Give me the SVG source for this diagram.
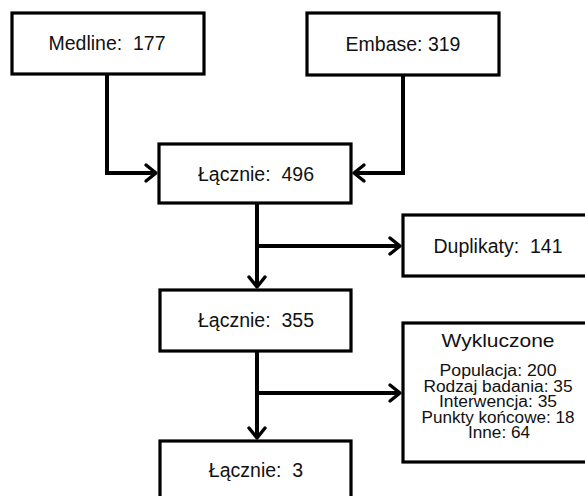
<svg xmlns="http://www.w3.org/2000/svg" width="585" height="496" viewBox="0 0 585 496">
<style>
.box{fill:#fff;stroke:#000;stroke-width:3.2}
.t{font-family:"Liberation Sans",Arial,sans-serif;font-size:19.5px;fill:#111;text-anchor:middle;white-space:pre}
.w{font-family:"Liberation Sans",Arial,sans-serif;font-size:19px;fill:#111;text-anchor:middle}
.s{font-family:"Liberation Sans",Arial,sans-serif;font-size:16px;fill:#111;text-anchor:middle}
.c{fill:none;stroke:#000;stroke-width:4;stroke-linejoin:miter}
.h{fill:none;stroke:#000;stroke-width:3.4;stroke-linecap:round;stroke-linejoin:round}
</style>
<rect width="585" height="496" fill="#fff"/>
<g id="connectors">
<path class="c" d="M107,74 V173 H156"/>
<path class="h" d="M146,165 L156,173 L146,181"/>
<path class="c" d="M403,76 V173 H354"/>
<path class="h" d="M364,165 L354,173 L364,181"/>
<path class="c" d="M257,204 V287"/>
<path class="h" d="M249,277 L257,287 L265,277"/>
<path class="c" d="M257,246 H400"/>
<path class="h" d="M390,238 L400,246 L390,254"/>
<path class="c" d="M257,352 V438"/>
<path class="h" d="M249,428 L257,438 L265,428"/>
<path class="c" d="M257,393 H400"/>
<path class="h" d="M390,385 L400,393 L390,401"/>
</g>
<g id="medline"><rect class="box" x="12" y="13" width="192" height="61"/><text class="t" x="107" y="50" xml:space="preserve">Medline:  177</text></g>
<g id="embase"><rect class="box" x="307" y="13" width="192" height="62"/><text class="t" x="403" y="51">Embase: 319</text></g>
<g id="lacznie496"><rect class="box" x="159" y="144" width="192" height="59"/><text class="t" x="256" y="181" xml:space="preserve">Łącznie:  496</text></g>
<g id="duplikaty"><rect class="box" x="403" y="215" width="192" height="61"/><text class="t" x="498" y="253" xml:space="preserve">Duplikaty:  141</text></g>
<g id="lacznie355"><rect class="box" x="160" y="290" width="191" height="61"/><text class="t" x="256" y="327" xml:space="preserve">Łącznie:  355</text></g>
<g id="wykluczone"><rect class="box" x="403" y="323" width="192" height="139"/>
<text class="w" x="498" y="347" textLength="113" lengthAdjust="spacingAndGlyphs">Wykluczone</text>
<text class="s" x="498" y="376" textLength="117" lengthAdjust="spacingAndGlyphs">Populacja: 200</text>
<text class="s" x="498" y="391.5" textLength="149" lengthAdjust="spacingAndGlyphs">Rodzaj badania: 35</text>
<text class="s" x="498" y="407" textLength="118" lengthAdjust="spacingAndGlyphs">Interwencja: 35</text>
<text class="s" x="498" y="422.5" textLength="153" lengthAdjust="spacingAndGlyphs">Punkty końcowe: 18</text>
<text class="s" x="499" y="438" textLength="62" lengthAdjust="spacingAndGlyphs">Inne: 64</text>
</g>
<g id="lacznie3"><rect class="box" x="160" y="441" width="191" height="62"/><text class="t" x="256" y="477" xml:space="preserve">Łącznie:  3</text></g>
</svg>
